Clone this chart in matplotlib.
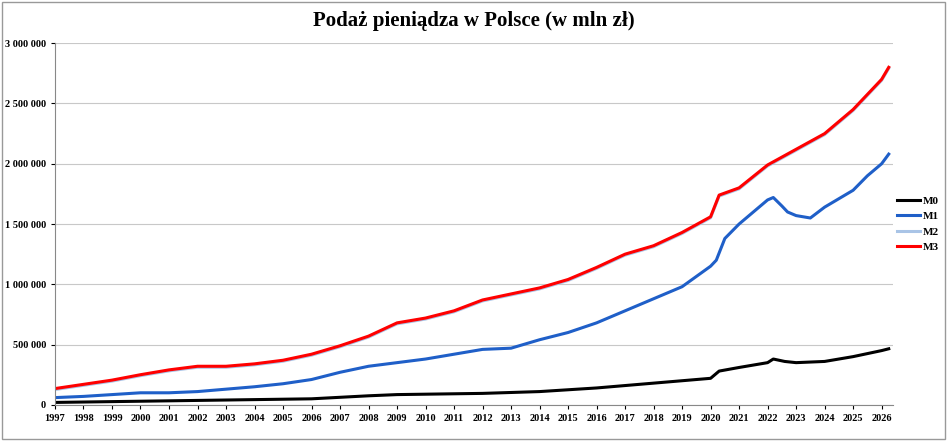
import matplotlib
matplotlib.use("Agg")
import matplotlib.pyplot as plt
from matplotlib.ticker import FuncFormatter, MultipleLocator

m3_t = [1997,1998,1999,2000,2001,2002,2003,2004,2005,2006,2007,2008,2009,2010,2011,2012,2013,2014,2015,2016,2017,2018,2019,2020,2020.3,2021,2022,2023,2024,2025,2026,2026.25]
m3 = [135,170,205,250,290,320,320,340,370,420,490,570,680,720,780,870,920,970,1040,1140,1250,1320,1430,1560,1740,1800,1990,2120,2250,2450,2700,2800]
m2 = [v-8 for v in m3]
m1_t = [1997,1998,1999,2000,2001,2002,2003,2004,2005,2006,2007,2008,2009,2010,2011,2012,2013,2014,2015,2016,2017,2018,2019,2020,2020.2,2020.5,2021,2022,2022.2,2022.5,2022.7,2023,2023.5,2024,2025,2025.5,2026,2026.25]
m1 = [60,70,85,100,100,110,130,150,175,210,270,320,350,380,420,460,470,540,600,680,780,880,980,1150,1200,1380,1500,1700,1720,1650,1600,1570,1550,1640,1780,1900,2000,2080]
m0_t = [1997,2000,2003,2006,2008,2009,2012,2014,2016,2018,2020,2020.3,2021,2022,2022.2,2022.6,2023,2024,2025,2026,2026.25]
m0 = [20,30,40,50,75,85,95,110,140,180,220,280,310,350,380,360,350,360,400,450,465]

fig = plt.figure(figsize=(9.48,4.41), dpi=100)
ax = fig.add_axes([0.058, 0.082, 0.884, 0.82])
ax.plot(m0_t, [v*1000 for v in m0], color='black', lw=2.2, label='M0')
ax.plot(m1_t, [v*1000 for v in m1], color='#1f5fc8', lw=2.2, label='M1')
ax.plot(m3_t, [v*1000 for v in m2], color='#a9c4e6', lw=2.2, label='M2')
ax.plot(m3_t, [v*1000 for v in m3], color='#ff0000', lw=2.2, label='M3')
ax.set_xlim(1997, 2026.4)
ax.set_ylim(0, 3000000)
ax.xaxis.set_major_locator(MultipleLocator(1))
ax.yaxis.set_major_locator(MultipleLocator(500000))
ax.yaxis.set_major_formatter(FuncFormatter(lambda v,p: f"{int(v):,}".replace(',', ' ')))
ax.grid(axis='y', color='#c8c8c8', lw=0.8)
for s in ['top','right']:
    ax.spines[s].set_visible(False)
ax.spines['left'].set_color('#888'); ax.spines['bottom'].set_color('#888')
for l in ax.get_xticklabels()+ax.get_yticklabels():
    l.set_fontfamily('Liberation Serif'); l.set_fontweight('bold'); l.set_fontsize(7.5)
ax.tick_params(length=3)
leg = ax.legend(loc='center left', bbox_to_anchor=(1.0, 0.5), frameon=False,
                prop={'family':'Liberation Serif','weight':'bold','size':8},
                handlelength=2.0, handletextpad=0.3, borderaxespad=0.3, borderpad=0.1)
fig.suptitle('Podaż pieniądza w Polsce (w mln zł)', y=0.975, fontsize=15,
             fontweight='bold', family='Liberation Serif')
fig.patches.append(plt.Rectangle((0.002,0.004),0.995,0.992, transform=fig.transFigure,
                                 fill=False, ec='#999', lw=1))
fig.savefig('out.png', dpi=100)
